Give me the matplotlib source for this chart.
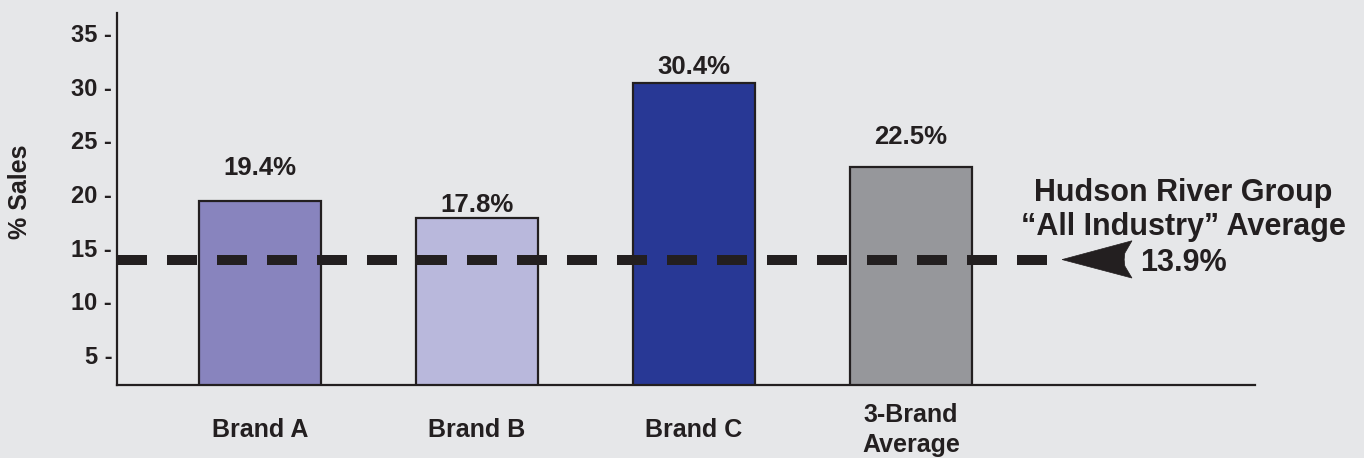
import matplotlib
matplotlib.use("Agg")
import matplotlib.pyplot as plt
from matplotlib.patches import Polygon

# data
brands = ["Brand A", "Brand B", "Brand C", "3-Brand\nAverage"]
sales_pct = [19.4, 17.8, 30.4, 22.5]
industry_avg = 13.9
yticks = [5, 10, 15, 20, 25, 30, 35]

bar_colors = ["#8884be", "#b9b8dc", "#283895", "#96979b"]
label_offsets = [23.8, 9.4, 11.2, 21.6]   # points above bar top
dark = "#231f20"
bg = "#e6e7e9"

plt.rcParams.update({
    "font.family": ["Liberation Sans", "DejaVu Sans"],
    "font.weight": "bold",
    "text.color": dark,
})

fig = plt.figure(figsize=(13.64, 4.58), dpi=100, facecolor=bg)
ax = fig.add_axes([117 / 1364, 1 - 385 / 458, (1255 - 117) / 1364, (385 - 13) / 458])
ax.set_facecolor(bg)

x = list(range(len(brands)))
ax.bar(x, sales_pct, width=0.558, color=bar_colors, edgecolor=dark, linewidth=1.6, zorder=2)

for xi, v, off in zip(x, sales_pct, label_offsets):
    ax.annotate(f"{v}%", xy=(xi, v), xytext=(0, off), textcoords="offset points",
                ha="center", va="center", fontsize=18.5, fontweight="bold", color=dark)

ax.set_xlim(-0.659, 4.585)
ax.set_ylim(2.21, 36.88)

# industry average dashed line + arrow
ax.plot([-0.659, 3.627], [industry_avg, industry_avg], color=dark, lw=7.2,
        linestyle=(0, (3, 2)), dash_capstyle="butt", zorder=3)
arrow = Polygon([(3.696, industry_avg), (4.018, industry_avg + 1.75),
                 (3.985, industry_avg + 0.6), (3.982, industry_avg),
                 (3.985, industry_avg - 0.6), (4.018, industry_avg - 1.72)],
                closed=True, facecolor=dark, edgecolor=dark, lw=0.5, zorder=3)
ax.add_patch(arrow)

ann_x = 4.253
ax.annotate("Hudson River Group", xy=(ann_x, industry_avg), xytext=(0, 48),
            textcoords="offset points", ha="center", va="center", fontsize=22, fontweight="bold")
ax.annotate("\u201cAll Industry\u201d Average", xy=(ann_x, industry_avg), xytext=(0, 23.5),
            textcoords="offset points", ha="center", va="center", fontsize=22, fontweight="bold")
ax.annotate(f"{industry_avg}%", xy=(ann_x, industry_avg), xytext=(0, -2.5),
            textcoords="offset points", ha="center", va="center", fontsize=22, fontweight="bold")

# axes styling
for s in ["top", "right"]:
    ax.spines[s].set_visible(False)
for s in ["left", "bottom"]:
    ax.spines[s].set_color(dark)
    ax.spines[s].set_linewidth(1.6)

ax.set_yticks(yticks)
ax.set_yticklabels([f"{t} -" for t in yticks], fontsize=17, fontweight="bold", color=dark)
ax.tick_params(axis="y", length=0, pad=3.5)

ax.set_xticks(x)
ax.set_xticklabels(brands, fontsize=18, fontweight="bold", color=dark, linespacing=1.3)
ax.tick_params(axis="x", length=0, pad=32.5)
for lbl in ax.get_xticklabels():
    lbl.set_va("center")

fig.text(20 / 1364, 1 - 192 / 458, "% Sales", rotation=90, ha="center", va="center",
         fontsize=18, fontweight="bold", color=dark)

fig.savefig("out.png", dpi=100, facecolor=bg)
